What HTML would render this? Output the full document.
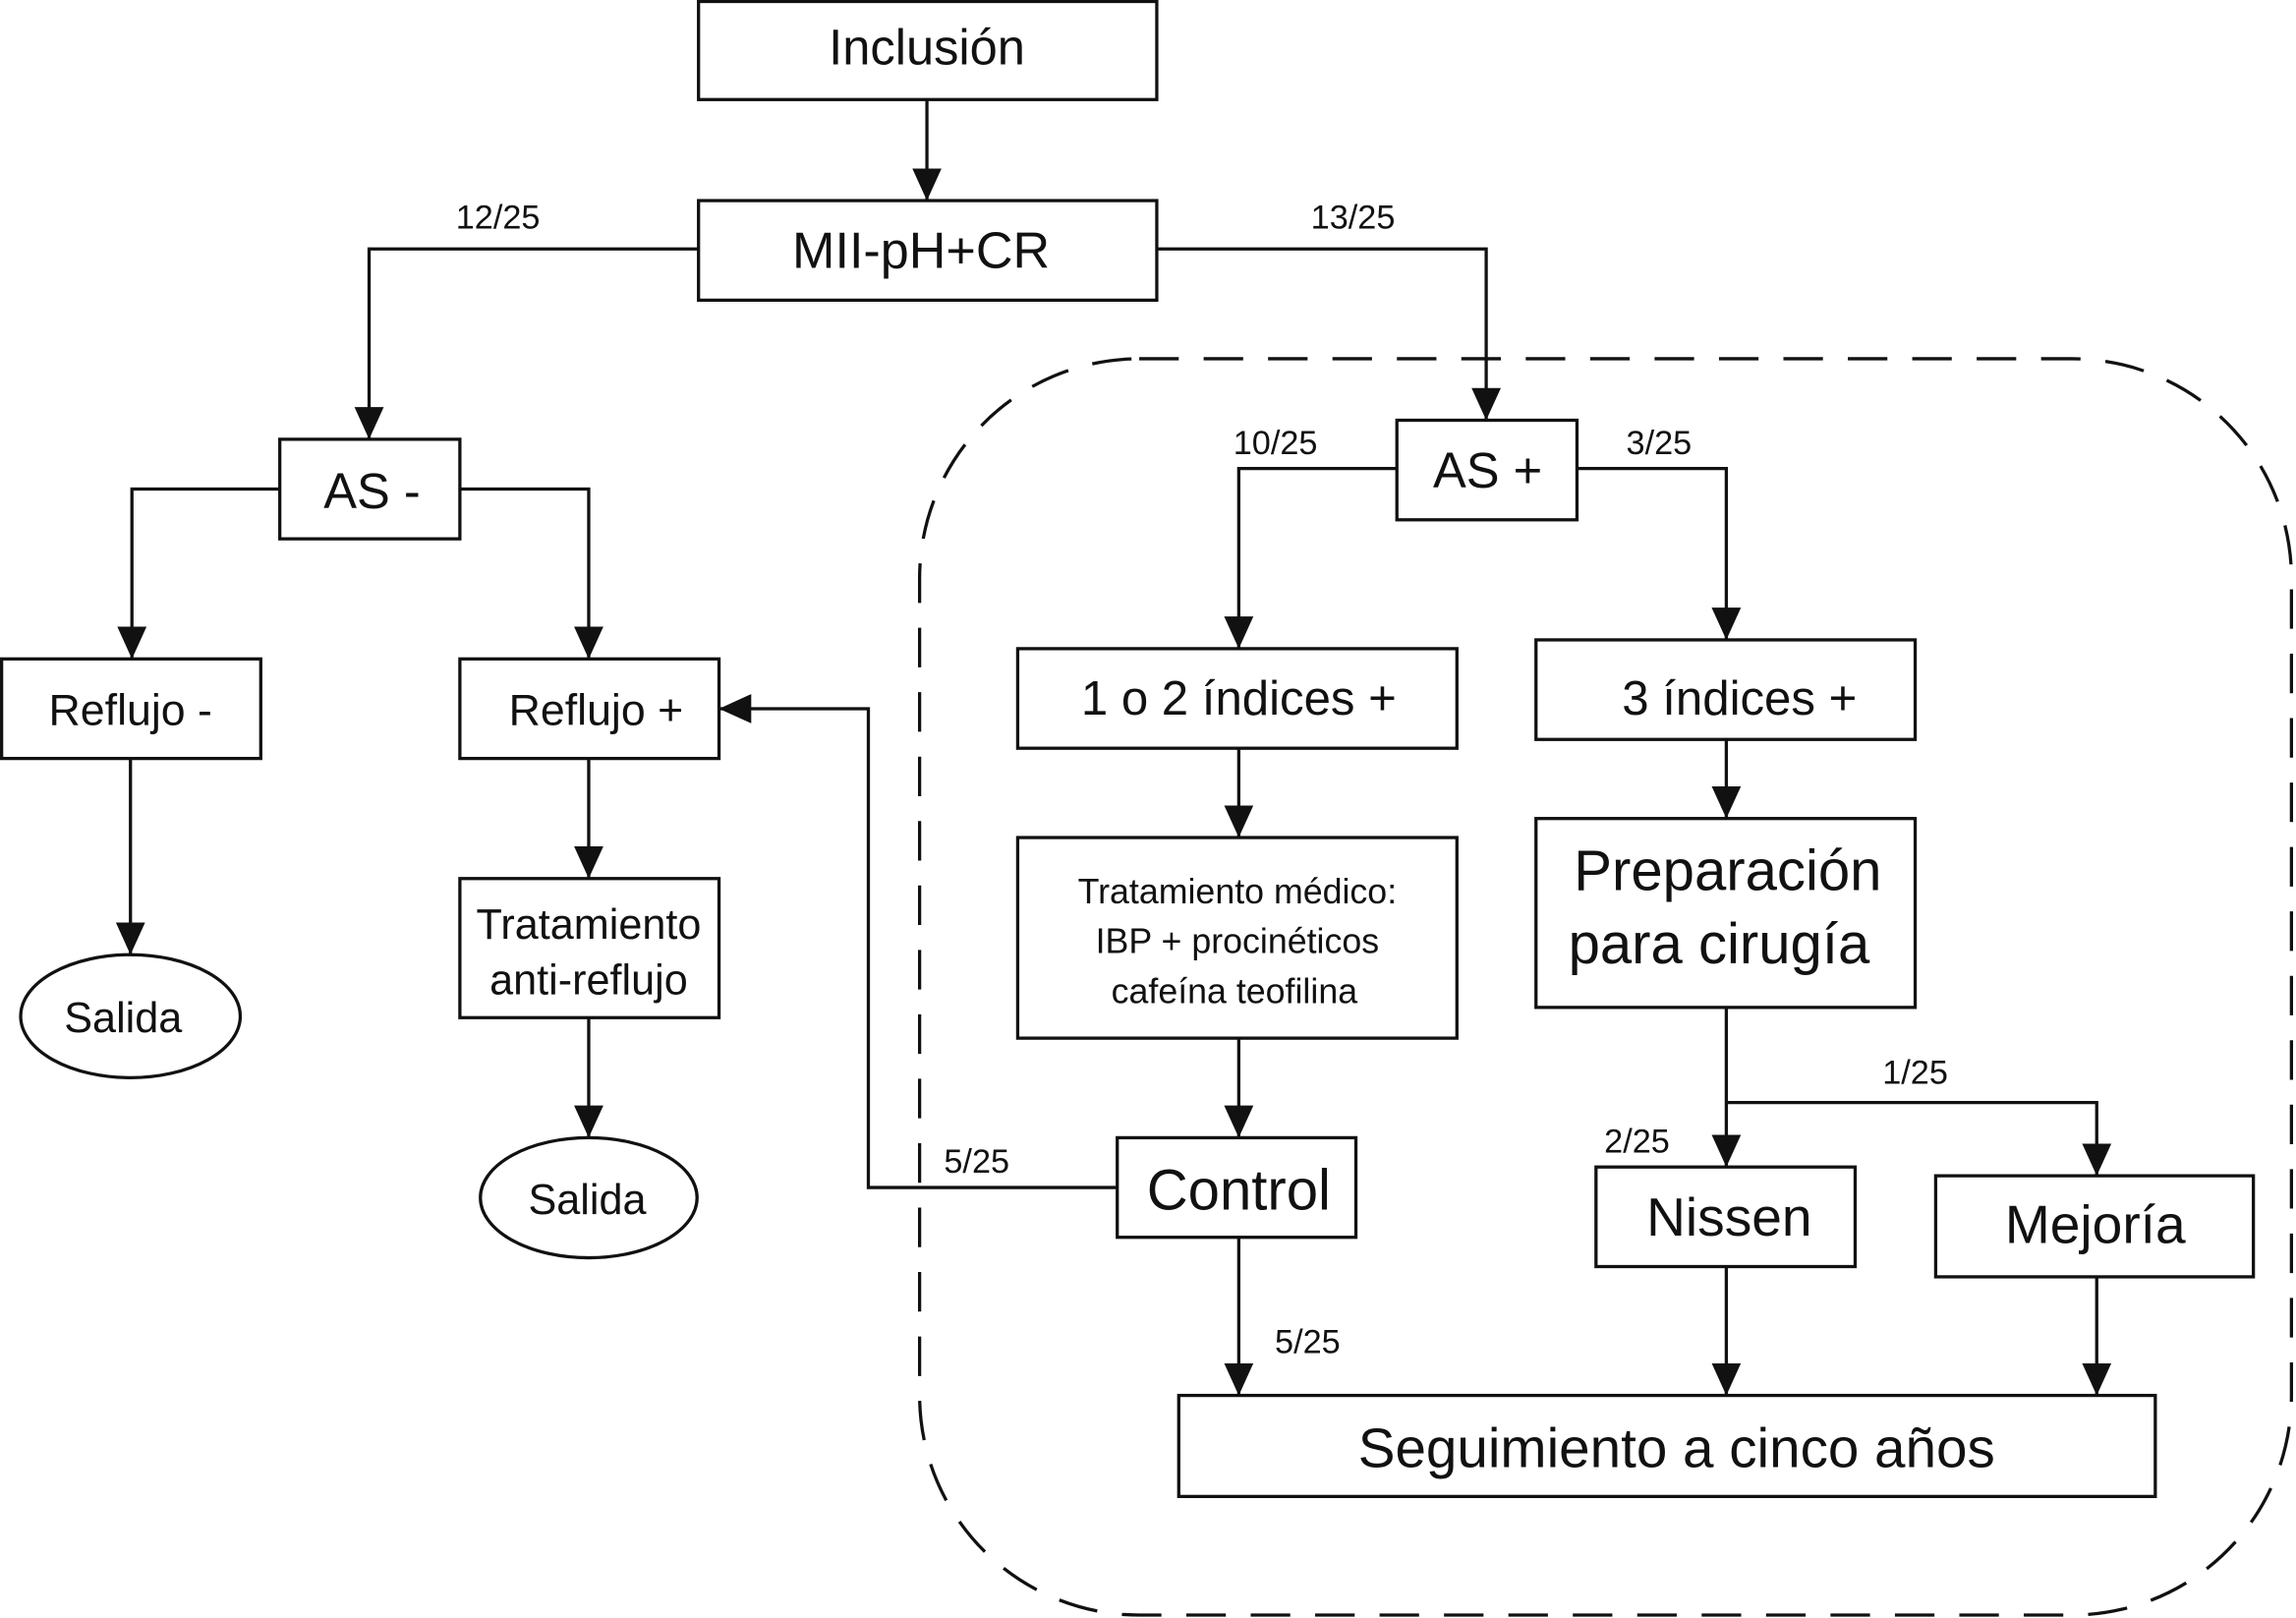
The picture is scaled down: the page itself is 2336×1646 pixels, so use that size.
<!DOCTYPE html>
<html><head><meta charset="utf-8"><style>
html,body{margin:0;padding:0;background:#fff;}
svg{display:block;}
text{font-family:"Liberation Sans",sans-serif;fill:#111;text-anchor:middle;}
</style></head><body>
<svg width="2336" height="1646" viewBox="0 0 1568 1105" xmlns="http://www.w3.org/2000/svg">
<defs>
<marker id="a" markerWidth="24" markerHeight="20" refX="22" refY="10" orient="auto" markerUnits="userSpaceOnUse">
<path d="M0,0 L22,10 L0,20 Z" fill="#111"/></marker>
</defs>
<rect x="628" y="245" width="937" height="858" rx="150" ry="150" fill="none" stroke="#111" stroke-width="2.2" stroke-dasharray="27,17"/>
<g fill="#fff" stroke="#111" stroke-width="2.2">
<rect x="477" y="1" width="313" height="67"/>
<rect x="477" y="137" width="313" height="68"/>
<rect x="191" y="300" width="123" height="68"/>
<rect x="1" y="450" width="177" height="68"/>
<rect x="314" y="450" width="177" height="68"/>
<rect x="314" y="600" width="177" height="95"/>
<ellipse cx="89" cy="694" rx="75" ry="42"/>
<ellipse cx="402" cy="818" rx="74" ry="41"/>
<rect x="954" y="287" width="123" height="68"/>
<rect x="695" y="443" width="300" height="68"/>
<rect x="1049" y="437" width="259" height="68"/>
<rect x="695" y="572" width="300" height="137"/>
<rect x="1049" y="559" width="259" height="129"/>
<rect x="763" y="777" width="163" height="68"/>
<rect x="1090" y="797" width="177" height="68"/>
<rect x="1322" y="803" width="217" height="69"/>
<rect x="805" y="953" width="667" height="69"/>
</g>
<g fill="none" stroke="#111" stroke-width="2.2">
<path d="M633,68 V137" marker-end="url(#a)"/>
<path d="M477,170 H252 V300" marker-end="url(#a)"/>
<path d="M790,170 H1015 V287" marker-end="url(#a)"/>
<path d="M191,334 H90 V450" marker-end="url(#a)"/>
<path d="M314,334 H402 V450" marker-end="url(#a)"/>
<path d="M89,518 V652" marker-end="url(#a)"/>
<path d="M402,518 V600" marker-end="url(#a)"/>
<path d="M402,695 V777" marker-end="url(#a)"/>
<path d="M954,320 H846 V443" marker-end="url(#a)"/>
<path d="M1077,320 H1179 V437" marker-end="url(#a)"/>
<path d="M846,511 V572" marker-end="url(#a)"/>
<path d="M846,709 V777" marker-end="url(#a)"/>
<path d="M763,811 H593 V484 H491" marker-end="url(#a)"/>
<path d="M846,845 V953" marker-end="url(#a)"/>
<path d="M1179,505 V559" marker-end="url(#a)"/>
<path d="M1179,688 V797" marker-end="url(#a)"/>
<path d="M1179,753 H1432 V803" marker-end="url(#a)"/>
<path d="M1179,865 V953" marker-end="url(#a)"/>
<path d="M1432,872 V953" marker-end="url(#a)"/>
</g>
<text x="633" y="44" font-size="34">Inclusión</text>
<text x="629" y="183" font-size="35">MII-pH+CR</text>
<text x="254" y="347" font-size="34">AS -</text>
<text x="89" y="495" font-size="30">Reflujo -</text>
<text x="407" y="495" font-size="30">Reflujo +</text>
<text x="402" y="641" font-size="29">Tratamiento</text>
<text x="402" y="679" font-size="29">anti-reflujo</text>
<text x="84" y="705" font-size="29">Salida</text>
<text x="401" y="829" font-size="29">Salida</text>
<text x="1016" y="333" font-size="34">AS +</text>
<text x="846" y="488" font-size="33">1 o 2 índices +</text>
<text x="1188" y="488" font-size="33">3 índices +</text>
<text x="845" y="617" font-size="24">Tratamiento médico:</text>
<text x="845" y="651" font-size="24">IBP + procinéticos</text>
<text x="843" y="685" font-size="24">cafeína teofilina</text>
<text x="1180" y="608" font-size="39">Preparación</text>
<text x="1174" y="658" font-size="39">para cirugía</text>
<text x="846" y="826" font-size="39">Control</text>
<text x="1181" y="844" font-size="37">Nissen</text>
<text x="1431" y="849" font-size="37">Mejoría</text>
<text x="1145" y="1002" font-size="38">Seguimiento a cinco años</text>
<g font-size="23">
<text x="340" y="156">12/25</text>
<text x="924" y="156">13/25</text>
<text x="871" y="310">10/25</text>
<text x="1133" y="310">3/25</text>
<text x="667" y="801">5/25</text>
<text x="893" y="924">5/25</text>
<text x="1308" y="740">1/25</text>
<text x="1118" y="787">2/25</text>
</g>
</svg>
</body></html>
